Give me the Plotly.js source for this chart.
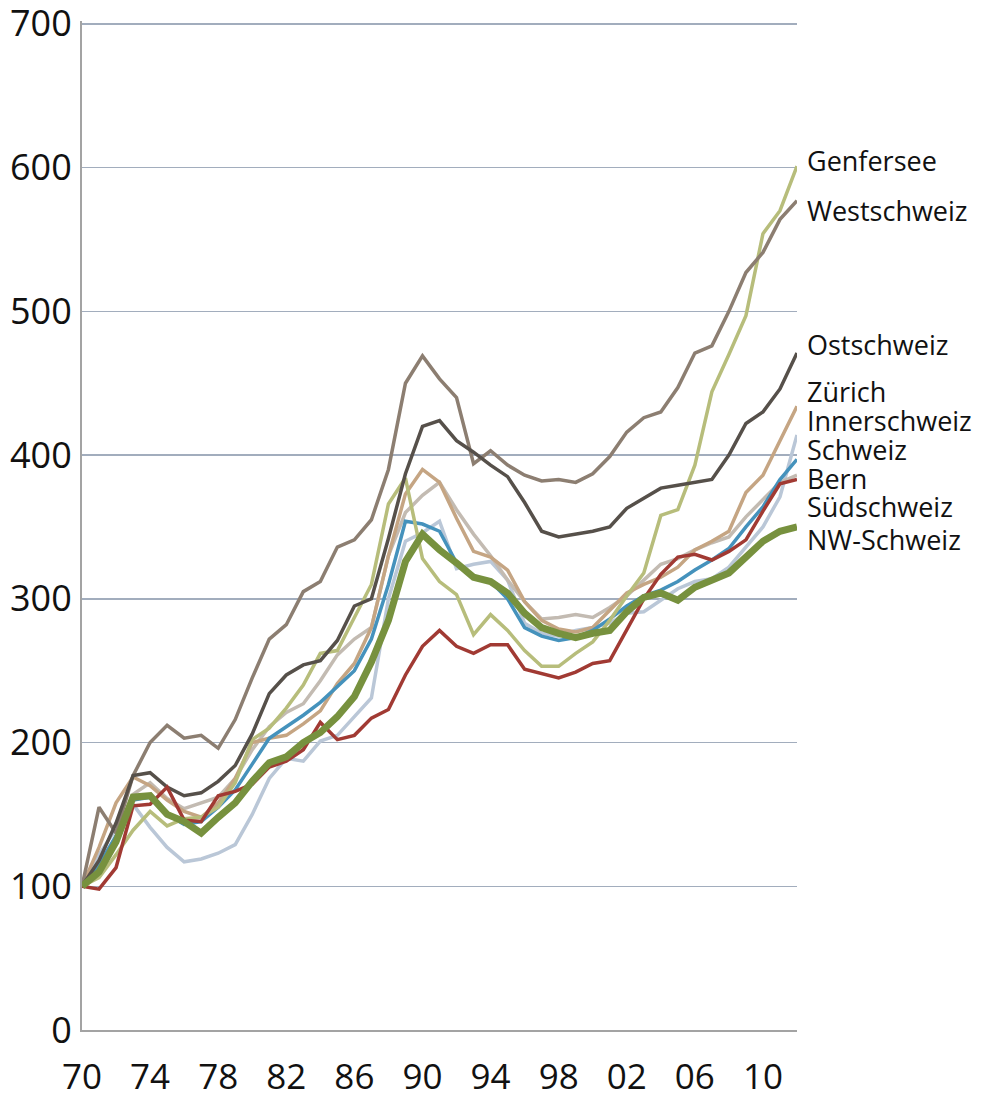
<!DOCTYPE html>
<html>
<head>
<meta charset="utf-8">
<script src="https://cdn.plot.ly/plotly-3.0.1.min.js"></script>
<style>
  body { margin: 0; background: #fff; }
  #chart { width: 986px; height: 1100px; }
</style>
</head>
<body>
<div id="chart"></div>
<script>
// years 1970 - 2012, index 1970 = 100
var years = [];
for (var yr = 1970; yr <= 2012; yr++) years.push(yr);

var genfersee = [100, 106, 122, 139, 152, 142, 147, 148, 155, 172, 202, 210, 224, 240, 262, 264, 287, 310, 366, 384,
  328, 312, 303, 275, 289, 278, 264, 253, 253, 262, 270, 285, 302, 318, 358, 362, 393, 444, 470, 497, 554, 570, 601];
var westschweiz = [100, 155, 137, 177, 200, 212, 203, 205, 196, 216, 245, 272, 282, 305, 312, 336, 341, 355, 390, 450,
  469, 453, 440, 394, 403, 393, 386, 382, 383, 381, 387, 399, 416, 426, 430, 447, 471, 476, 500, 527, 541, 564, 577];
var ostschweiz = [100, 118, 144, 177, 179, 169, 163, 165, 173, 184, 206, 234, 247, 254, 257, 271, 295, 300, 342, 387,
  420, 424, 410, 402, 393, 385, 367, 347, 343, 345, 347, 350, 363, 370, 377, 379, 381, 383, 400, 422, 430, 446, 471];
var zuerich = [100, 127, 158, 176, 170, 160, 152, 148, 158, 175, 200, 203, 205, 213, 222, 241, 255, 280, 330, 373,
  390, 381, 356, 333, 329, 320, 298, 285, 279, 277, 280, 292, 304, 310, 315, 322, 334, 340, 347, 374, 386, 410, 434];
var innerschweiz = [100, 122, 140, 157, 141, 127, 117, 119, 123, 129, 150, 175, 189, 187, 201, 205, 218, 231, 300, 340,
  346, 354, 321, 324, 326, 313, 283, 276, 274, 278, 280, 283, 290, 291, 299, 307, 312, 314, 322, 336, 350, 371, 414];
var schweiz = [100, 115, 135, 160, 162, 150, 143, 145, 155, 167, 185, 203, 211, 219, 228, 239, 250, 272, 310, 354,
  352, 347, 325, 316, 312, 300, 280, 274, 271, 273, 278, 286, 295, 302, 306, 312, 320, 327, 335, 350, 364, 383, 397];
var bern = [100, 98, 113, 156, 157, 169, 146, 145, 163, 166, 171, 183, 187, 195, 214, 202, 205, 217, 223, 247,
  267, 278, 267, 262, 268, 268, 251, 248, 245, 249, 255, 257, 279, 300, 317, 329, 331, 327, 333, 341, 361, 380, 383];
var suedschweiz = [100, 112, 135, 164, 172, 161, 154, 158, 162, 175, 195, 211, 221, 227, 243, 261, 272, 280, 330, 360,
  372, 381, 362, 345, 330, 313, 298, 286, 287, 289, 287, 294, 302, 313, 324, 328, 334, 339, 343, 357, 369, 381, 386];
var nwschweiz = [100, 110, 131, 162, 163, 150, 145, 137, 148, 158, 173, 186, 190, 200, 207, 218, 232, 256, 285, 326,
  345, 334, 325, 315, 312, 304, 290, 280, 276, 273, 276, 278, 291, 301, 304, 299, 308, 313, 318, 329, 340, 347, 350];

var tickYears = [1970, 1974, 1978, 1982, 1986, 1990, 1994, 1998, 2002, 2006, 2010];
var tickLabels = ['70', '74', '78', '82', '86', '90', '94', '98', '02', '06', '10'];
var yTicks = [0, 100, 200, 300, 400, 500, 600, 700];

function tr(name, y, color, width) {
  return { x: years, y: y, name: name, type: 'scatter', mode: 'lines',
           line: { color: color, width: width }, hoverinfo: 'skip' };
}

var data = [
  tr('Innerschweiz', innerschweiz, '#bac7d7', 3.5),
  tr('Südschweiz', suedschweiz, '#c3bbb2', 3.5),
  tr('Zürich', zuerich, '#c5a583', 3.5),
  tr('Schweiz', schweiz, '#4592bc', 3.5),
  tr('Genfersee', genfersee, '#b7bd7b', 3.5),
  tr('Westschweiz', westschweiz, '#8c7e71', 3.5),
  tr('Ostschweiz', ostschweiz, '#56504a', 3.5),
  tr('Bern', bern, '#a13a33', 3.5),
  tr('NW-Schweiz', nwschweiz, '#77913e', 7)
];

// end labels, placed by hand to the right of the plot
var labelNames = ['Genfersee', 'Westschweiz', 'Ostschweiz', 'Zürich', 'Innerschweiz', 'Schweiz', 'Bern', 'Südschweiz', 'NW-Schweiz'];
var labelY = [605, 570, 477, 444, 424, 404, 384, 364, 341];
var annotations = labelNames.map(function (n, i) {
  return { text: n, xref: 'paper', x: 1, xanchor: 'left', xshift: 9,
           yref: 'y', y: labelY[i], yanchor: 'middle', showarrow: false,
           borderpad: 0, font: { size: 27, color: '#111' } };
});

var layout = {
  width: 986, height: 1100,
  margin: { l: 82, r: 189, t: 21, b: 70 },
  paper_bgcolor: '#fff', plot_bgcolor: '#fff',
  font: { family: 'Open Sans, Noto Sans, sans-serif', color: '#111' },
  showlegend: false,
  xaxis: {
    range: [1970, 2012], tickvals: tickYears, ticktext: tickLabels,
    showgrid: false, zeroline: false, showline: true, linecolor: '#a3a3a3', linewidth: 2,
    ticks: '', ticklabelstandoff: 15, tickfont: { size: 35 }
  },
  yaxis: {
    range: [0, 702], tickvals: yTicks, showgrid: true, gridcolor: '#a2adbd', gridwidth: 1.5,
    zeroline: false, showline: true, linecolor: '#a3a3a3', linewidth: 2,
    ticks: '', ticklabelstandoff: 1, ticklabeloverflow: 'allow', tickfont: { size: 36 }
  },
  annotations: annotations
};

Plotly.newPlot('chart', data, layout, { staticPlot: true });
</script>
</body>
</html>
